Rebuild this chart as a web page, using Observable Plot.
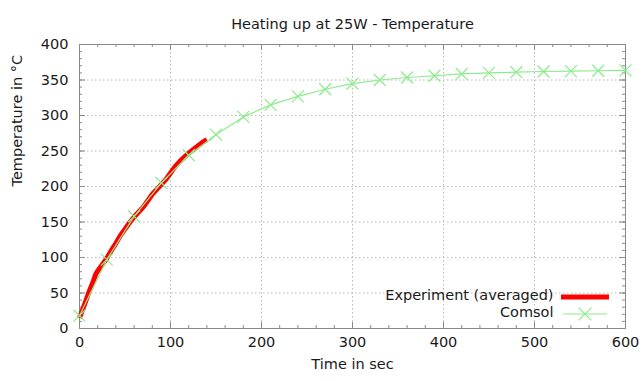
<!DOCTYPE html>
<html>
<head>
<meta charset="utf-8">
<script src="https://cdn.jsdelivr.net/npm/d3@7"></script>
<script src="https://cdn.jsdelivr.net/npm/@observablehq/plot@0.6"></script>
<style>
  html, body { margin: 0; padding: 0; background: #fff; }
  #chart svg { display: block; }
</style>
</head>
<body>
<div id="chart"></div>
<script>
// Comsol simulation (markers every 30 s)
const comsolTime = [0, 30, 60, 90, 120, 150, 180, 210, 240, 270, 300, 330, 360, 390, 420, 450, 480, 510, 540, 570, 600];
const comsolTemp = [18, 97, 158, 205, 244, 273, 298, 315, 327, 337, 345, 350, 353.5, 356, 358.5, 360, 361, 362, 362.5, 363, 363.5];

// Experiment (averaged)
const expTime = [0, 5, 10, 15, 18, 20, 25, 30, 35, 40, 45, 50, 55, 60, 65, 70, 75, 80, 85, 90, 95, 100, 105, 110, 115, 120, 125, 130, 135, 140];
const expTemp = [15, 32, 50, 66, 77, 81, 90, 99, 110, 120, 131, 140, 149, 157, 164, 171, 180, 189, 196, 203, 210, 219, 228, 235, 241, 247, 252, 257, 262, 266];

const xMajor = [0, 100, 200, 300, 400, 500, 600];
const xGrid = [100, 200, 300, 400, 500];
const xMinor = d3.range(0, 601, 20);
const yMajor = [0, 50, 100, 150, 200, 250, 300, 350, 400];
const yGrid = [50, 100, 150, 200, 250, 300, 350];
const yMinor = d3.range(0, 401, 10);

const titleText = "Heating up at 25W - Temperature";
const xLabel = "Time in sec";
const yLabel = "Temperature in °C";
const seriesNames = ["Experiment (averaged)", "Comsol"];

const comsol = comsolTime.map((t, i) => ({t, v: comsolTemp[i]}));
const experiment = expTime.map((t, i) => ({t, v: expTemp[i]}));

const W = 642, H = 381;
const mL = 79, mR = 17, mT = 44, mB = 53;
const innerW = W - mL - mR, innerH = H - mT - mB;
const borderColor = "#8a8a8a";
const gridColor = "#b8b8b8";
const green = "#8cec8c";
const font = "DejaVu Sans, Verdana, sans-serif";
const fs = 14.5;
const ink = "#1a1a1a";

const plot = Plot.plot({
  width: W,
  height: H,
  marginLeft: mL,
  marginRight: mR,
  marginTop: mT,
  marginBottom: mB,
  style: {fontFamily: font, fontSize: fs + "px", color: ink, background: "#fff"},
  x: {domain: [0, 600]},
  y: {domain: [0, 400]},
  marks: [
    // grid
    Plot.ruleX(xGrid, {stroke: gridColor, strokeDasharray: "1.5,2.5", strokeWidth: 1}),
    Plot.ruleY(yGrid, {stroke: gridColor, strokeDasharray: "1.5,2.5", strokeWidth: 1}),
    // minor ticks (all four sides, inward)
    Plot.tickX(xMinor, {x: d => d, stroke: borderColor, insetTop: innerH - 3}),
    Plot.tickX(xMinor, {x: d => d, stroke: borderColor, insetBottom: innerH - 3}),
    Plot.tickY(yMinor, {y: d => d, stroke: borderColor, insetRight: innerW - 3}),
    Plot.tickY(yMinor, {y: d => d, stroke: borderColor, insetLeft: innerW - 3}),
    // major ticks
    Plot.tickX(xMajor, {x: d => d, stroke: borderColor, insetTop: innerH - 6}),
    Plot.tickX(xMajor, {x: d => d, stroke: borderColor, insetBottom: innerH - 6}),
    Plot.tickY(yMajor, {y: d => d, stroke: borderColor, insetRight: innerW - 6}),
    Plot.tickY(yMajor, {y: d => d, stroke: borderColor, insetLeft: innerW - 6}),
    Plot.frame({stroke: borderColor, strokeWidth: 1}),
    // axes labels
    Plot.axisX(xMajor, {tickSize: 0, tickPadding: 8, label: null, fontSize: fs, fill: ink}),
    Plot.axisY(yMajor, {tickSize: 0, tickPadding: 11, label: null, fontSize: fs, fill: ink}),
    // data
    Plot.line(experiment, {x: "t", y: "v", stroke: "#ff0000", strokeWidth: 5, strokeLinejoin: "round", strokeLinecap: "butt"}),
    Plot.line(comsol, {x: "t", y: "v", stroke: green, strokeWidth: 1.2}),
    Plot.dot(comsol, {x: "t", y: "v", symbol: "times", r: 5.5, stroke: green, strokeWidth: 1.2}),
    // titles
    Plot.text([titleText], {frameAnchor: "top", dy: -26, fontSize: fs, fill: ink}),
    Plot.text([xLabel], {frameAnchor: "bottom", dy: 40, fontSize: fs, fill: ink}),
    Plot.text([yLabel], {frameAnchor: "left", dx: -62, rotate: -90, fontSize: fs, fill: ink}),
    // legend labels
    Plot.text([seriesNames[0]], {frameAnchor: "bottom-right", dx: -72, dy: -29, textAnchor: "end", fontSize: fs, fill: ink}),
    Plot.text([seriesNames[1]], {frameAnchor: "bottom-right", dx: -72, dy: -12, textAnchor: "end", fontSize: fs, fill: ink})
  ]
});

// legend samples
const svg = d3.select(plot);
const right = W - mR, bottom = H - mB;
const lg = svg.append("g");
lg.append("line").attr("x1", right - 64).attr("x2", right - 16)
  .attr("y1", bottom - 31).attr("y2", bottom - 31)
  .attr("stroke", "#ff0000").attr("stroke-width", 5);
lg.append("line").attr("x1", right - 62).attr("x2", right - 18)
  .attr("y1", bottom - 14).attr("y2", bottom - 14)
  .attr("stroke", green).attr("stroke-width", 1.2);
lg.append("path").attr("d", d3.symbol(d3.symbolTimes, 110)())
  .attr("transform", `translate(${right - 40},${bottom - 14})`)
  .attr("fill", "none").attr("stroke", green).attr("stroke-width", 1.2);

document.getElementById("chart").appendChild(plot);
</script>
</body>
</html>
